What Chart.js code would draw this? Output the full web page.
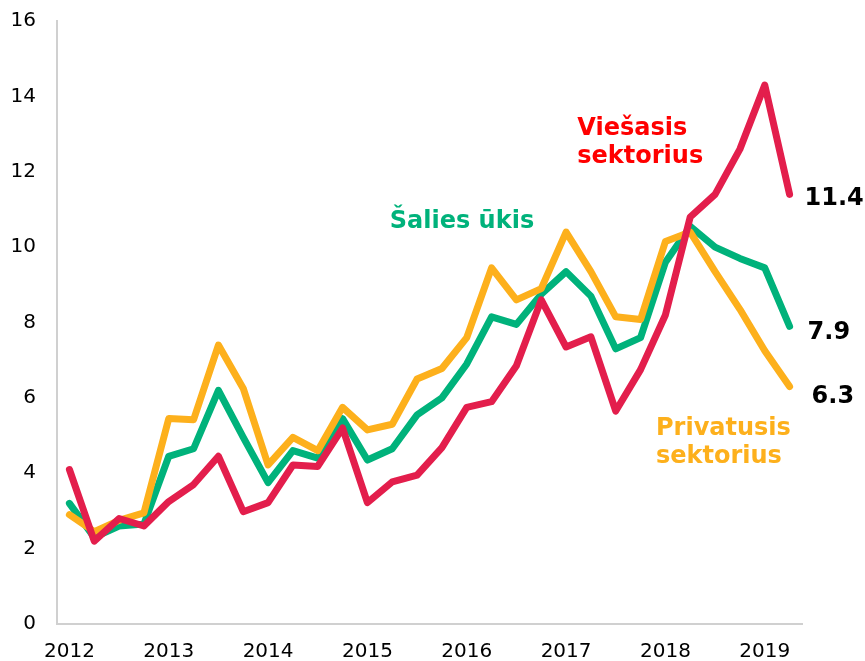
<!DOCTYPE html>
<html>
<head>
<meta charset="utf-8">
<script src="https://cdn.jsdelivr.net/npm/chart.js@4/dist/chart.umd.min.js"></script>
<style>
  html, body { margin: 0; padding: 0; background: #fff; }
  #wrap { width: 865px; height: 661px; position: relative; }
</style>
</head>
<body>
<div id="wrap"><canvas id="chart"></canvas></div>
<script>
const quarters = [
  '2012 Q1', '2012 Q2', '2012 Q3', '2012 Q4',
  '2013 Q1', '2013 Q2', '2013 Q3', '2013 Q4',
  '2014 Q1', '2014 Q2', '2014 Q3', '2014 Q4',
  '2015 Q1', '2015 Q2', '2015 Q3', '2015 Q4',
  '2016 Q1', '2016 Q2', '2016 Q3', '2016 Q4',
  '2017 Q1', '2017 Q2', '2017 Q3', '2017 Q4',
  '2018 Q1', '2018 Q2', '2018 Q3', '2018 Q4',
  '2019 Q1', '2019 Q2'
];

const salies = [3.2, 2.3, 2.6, 2.65, 4.45, 4.65, 6.2, 4.95, 3.75, 4.6,
  4.4, 5.45, 4.35, 4.65, 5.55, 6.0, 6.9, 8.15, 7.95, 8.75,
  9.35, 8.7, 7.3, 7.6, 9.6, 10.55, 10.0, 9.7, 9.45, 7.9];

const privatus = [2.9, 2.45, 2.75, 2.95, 5.45, 5.42, 7.4, 6.25, 4.22, 4.95,
  4.6, 5.75, 5.15, 5.3, 6.5, 6.78, 7.6, 9.45, 8.6, 8.9,
  10.4, 9.35, 8.15, 8.08, 10.15, 10.4, 9.35, 8.35, 7.25, 6.3];

const viesas = [4.1, 2.2, 2.8, 2.6, 3.25, 3.7, 4.45, 2.98, 3.22, 4.22,
  4.18, 5.2, 3.22, 3.77, 3.95, 4.68, 5.75, 5.9, 6.85, 8.6,
  7.35, 7.62, 5.65, 6.75, 8.2, 10.8, 11.4, 12.6, 14.3, 11.4];

const yTicks = [0, 2, 4, 6, 8, 10, 12, 14, 16];

const RED = '#e31e4c';
const GREEN = '#00b27b';
const ORANGE = '#fdb01c';

// text labels anchored in data coordinates (category index, value)
const seriesLabels = [
  { lines: ['Viešasis', 'sektorius'], color: '#ff0000', at: [20.45, 12.97] },
  { lines: ['Šalies ūkis'], color: GREEN, at: [12.9, 10.5] },
  { lines: ['Privatusis', 'sektorius'], color: ORANGE, at: [23.62, 5.02] }
];

const endLabels = [
  { text: '11.4', value: viesas[viesas.length - 1], dy: 0.11, dx: 15 },
  { text: '7.9', value: salies[salies.length - 1], dy: 0.18, dx: 18 },
  { text: '6.3', value: privatus[privatus.length - 1], dy: 0.27, dx: 22 }
];

const labelPlugin = {
  id: 'labels',
  afterDatasetsDraw(chart) {
    const ctx = chart.ctx;
    const xs = chart.scales.x;
    const ys = chart.scales.y;
    ctx.save();
    ctx.font = 'bold 24px "DejaVu Sans", Verdana, sans-serif';
    ctx.textAlign = 'left';
    ctx.textBaseline = 'alphabetic';
    seriesLabels.forEach(l => {
      const x = xs.getPixelForValue(l.at[0]);
      const y = ys.getPixelForValue(l.at[1]);
      ctx.fillStyle = l.color;
      l.lines.forEach((t, i) => ctx.fillText(t, x, y + i * 28));
    });
    ctx.fillStyle = '#000';
    const lastX = xs.getPixelForValue(quarters.length - 1);
    endLabels.forEach(l => {
      const y = ys.getPixelForValue(l.value - l.dy);
      ctx.textBaseline = 'middle';
      ctx.fillText(l.text, lastX + l.dx, y);
    });
    ctx.restore();
  }
};

const line = (data, color) => ({
  data: data,
  borderColor: color,
  backgroundColor: color,
  borderWidth: 7,
  pointRadius: 0,
  tension: 0,
  borderJoinStyle: 'round',
  borderCapStyle: 'round',
  fill: false
});

const ctx = document.getElementById('chart').getContext('2d');
new Chart(ctx, {
  type: 'line',
  data: {
    labels: quarters,
    datasets: [
      Object.assign(line(viesas, RED), { label: 'Viešasis sektorius', order: 1 }),
      Object.assign(line(privatus, ORANGE), { label: 'Privatusis sektorius', order: 2 }),
      Object.assign(line(salies, GREEN), { label: 'Šalies ūkis', order: 3 })
    ]
  },
  options: {
    responsive: true,
    maintainAspectRatio: false,
    animation: false,
    layout: { padding: { top: 21, right: 63, left: 0, bottom: 0 } },
    plugins: {
      legend: { display: false },
      tooltip: { enabled: false }
    },
    scales: {
      x: {
        offset: true,
        grid: { display: false, drawTicks: false },
        border: { display: true, color: '#d0d0d0', width: 2 },
        ticks: {
          autoSkip: false,
          maxRotation: 0,
          padding: 16,
          color: '#000',
          font: { family: '"DejaVu Sans", Verdana, sans-serif', size: 20 },
          callback: (v, i) => quarters[i].endsWith('Q1') ? quarters[i].slice(0, 4) : ''
        },
        afterFit: s => { s.height = 37; s.paddingLeft = 0; s.paddingRight = 0; }
      },
      y: {
        min: 0,
        max: 16,
        afterBuildTicks: s => { s.ticks = yTicks.map(v => ({ value: v })); },
        grid: { display: false, drawTicks: false },
        border: { display: true, color: '#d0d0d0', width: 2 },
        ticks: {
          padding: 21,
          color: '#000',
          font: { family: '"DejaVu Sans", Verdana, sans-serif', size: 20 }
        },
        afterFit: s => { s.width = 57; s.paddingTop = 0; s.paddingBottom = 0; }
      }
    }
  },
  plugins: [labelPlugin]
});
</script>
</body>
</html>
